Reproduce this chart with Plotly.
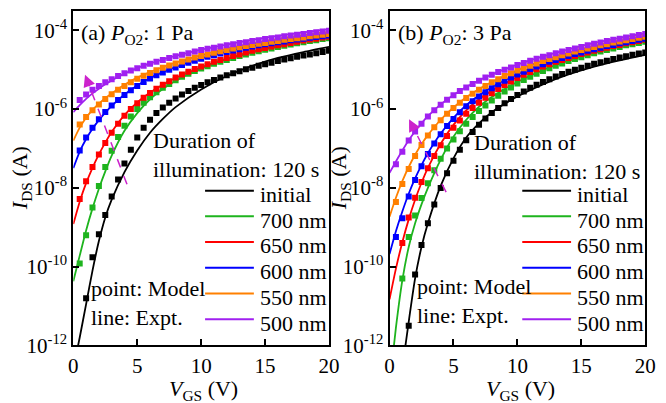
import plotly.graph_objects as go

# ---------------- data ----------------
LABELS = ["initial", "700 nm", "650 nm", "600 nm", "550 nm", "500 nm"]
COLORS = ["#000000", "#1eb41e", "#ff0000", "#0000ff", "#ff8000", "#a020f0"]

V_PTS = [0.5, 1.0, 1.5, 2.0, 2.5, 3.0, 3.5, 4.0, 4.5, 5.0, 5.5, 6.0, 6.5, 7.0, 7.5, 8.0,
         8.5, 9.0, 9.5, 10.0, 10.5, 11.0, 11.5, 12.0, 12.5, 13.0, 13.5, 14.0, 14.5, 15.0,
         15.5, 16.0, 16.5, 17.0, 17.5, 18.0, 18.5, 19.0, 19.5, 20.0]
V_LINE = [0, 0.5, 1, 1.5, 2, 2.5, 3, 4, 5, 6, 7, 8, 10, 12, 14, 16, 18, 20]

# panel (a): P_O2 = 1 Pa   -- log10(I_DS / A)
A_PTS = {
    "initial": [None, -10.80, -9.76, -9.18, -8.69, -8.22, -7.79, -7.38, -7.03, -6.72, -6.47, -6.27, -6.10, -5.96, -5.84, -5.73,
                -5.63, -5.54, -5.46, -5.39, -5.32, -5.26, -5.20, -5.14, -5.09, -5.04, -4.99, -4.95, -4.90, -4.86,
                -4.82, -4.78, -4.74, -4.71, -4.67, -4.64, -4.61, -4.58, -4.55, -4.52],
    "700 nm": [-9.92, -9.20, -8.50, -7.95, -7.47, -7.06, -6.71, -6.42, -6.19, -6.00, -5.84, -5.70, -5.57, -5.46, -5.36, -5.27,
               -5.18, -5.10, -5.03, -4.97, -4.91, -4.85, -4.80, -4.75, -4.70, -4.65, -4.61, -4.57, -4.53, -4.49,
               -4.46, -4.42, -4.39, -4.36, -4.33, -4.30, -4.27, -4.25, -4.22, -4.20],
    "650 nm": [-8.28, -7.83, -7.47, -7.15, -6.86, -6.60, -6.37, -6.17, -6.00, -5.85, -5.71, -5.59, -5.48, -5.38, -5.29, -5.20,
               -5.12, -5.05, -4.98, -4.92, -4.86, -4.80, -4.75, -4.70, -4.65, -4.61, -4.56, -4.52, -4.48, -4.45,
               -4.41, -4.38, -4.35, -4.32, -4.29, -4.26, -4.23, -4.21, -4.18, -4.16],
    "600 nm": [-7.05, -6.72, -6.47, -6.26, -6.07, -5.91, -5.77, -5.64, -5.52, -5.41, -5.31, -5.22, -5.14, -5.07, -5.00, -4.94,
               -4.88, -4.82, -4.77, -4.72, -4.67, -4.63, -4.59, -4.55, -4.51, -4.48, -4.44, -4.41, -4.38, -4.35,
               -4.33, -4.30, -4.28, -4.25, -4.23, -4.21, -4.19, -4.17, -4.15, -4.13],
    "550 nm": [-6.39, -6.20, -6.03, -5.88, -5.74, -5.62, -5.51, -5.41, -5.32, -5.23, -5.15, -5.08, -5.01, -4.95, -4.89, -4.84,
               -4.79, -4.74, -4.69, -4.65, -4.61, -4.57, -4.53, -4.50, -4.46, -4.43, -4.40, -4.37, -4.34, -4.32,
               -4.29, -4.27, -4.24, -4.22, -4.20, -4.18, -4.15, -4.13, -4.11, -4.09],
    "500 nm": [-5.77, -5.63, -5.51, -5.41, -5.32, -5.24, -5.16, -5.09, -5.02, -4.96, -4.90, -4.85, -4.80, -4.75, -4.70, -4.66,
               -4.62, -4.58, -4.54, -4.50, -4.47, -4.44, -4.41, -4.38, -4.35, -4.32, -4.30, -4.27, -4.25, -4.22,
               -4.20, -4.18, -4.15, -4.13, -4.11, -4.09, -4.07, -4.05, -4.03, -4.01],
}
A_LINE = {
    "initial": [-12.6, -11.8, -10.95, -10.1, -9.35, -8.75, -8.30, -7.60, -7.05, -6.60, -6.25, -5.95, -5.50, -5.16, -4.90, -4.70, -4.55, -4.42],
    "700 nm": [-10.37, -9.72, -9.08, -8.52, -8.02, -7.58, -7.18, -6.55, -6.10, -5.75, -5.49, -5.28, -4.97, -4.74, -4.56, -4.41, -4.28, -4.17],
    "650 nm": [-8.92, -8.35, -7.88, -7.49, -7.15, -6.85, -6.58, -6.15, -5.83, -5.58, -5.38, -5.21, -4.94, -4.72, -4.54, -4.38, -4.25, -4.13],
    "600 nm": [-7.50, -7.08, -6.76, -6.50, -6.28, -6.09, -5.92, -5.63, -5.40, -5.21, -5.06, -4.93, -4.72, -4.54, -4.40, -4.28, -4.18, -4.09],
    "550 nm": [-6.80, -6.47, -6.22, -6.02, -5.86, -5.72, -5.60, -5.38, -5.20, -5.06, -4.93, -4.82, -4.63, -4.47, -4.34, -4.22, -4.12, -4.04],
    "500 nm": [-6.08, -5.90, -5.74, -5.60, -5.48, -5.37, -5.27, -5.10, -4.96, -4.84, -4.74, -4.65, -4.49, -4.36, -4.24, -4.14, -4.05, -3.97],
}

# panel (b): P_O2 = 3 Pa   -- log10(I_DS / A)
B_PTS = {
    "initial": [None, None, -11.50, -10.20, -9.45, -8.90, -8.42, -8.00, -7.63, -7.31, -7.03, -6.79, -6.58, -6.40, -6.24, -6.10,
                -5.97, -5.85, -5.74, -5.64, -5.55, -5.46, -5.38, -5.31, -5.24, -5.17, -5.11, -5.05, -5.00, -4.95,
                -4.90, -4.85, -4.81, -4.77, -4.73, -4.69, -4.66, -4.62, -4.59, -4.56],
    "700 nm": [None, -10.30, -9.25, -8.70, -8.26, -7.88, -7.55, -7.26, -7.00, -6.77, -6.56, -6.37, -6.20, -6.05, -5.91, -5.78,
               -5.66, -5.55, -5.45, -5.35, -5.26, -5.18, -5.10, -5.03, -4.96, -4.90, -4.84, -4.78, -4.73, -4.68,
               -4.63, -4.58, -4.54, -4.50, -4.46, -4.42, -4.38, -4.35, -4.32, -4.29],
    "650 nm": [None, -9.40, -8.75, -8.25, -7.85, -7.50, -7.19, -6.92, -6.68, -6.47, -6.29, -6.12, -5.97, -5.84, -5.71, -5.60,
               -5.49, -5.39, -5.30, -5.21, -5.13, -5.06, -4.99, -4.92, -4.86, -4.80, -4.75, -4.70, -4.65, -4.60,
               -4.56, -4.52, -4.48, -4.44, -4.40, -4.37, -4.33, -4.30, -4.27, -4.24],
    "600 nm": [-9.25, -8.77, -8.22, -7.80, -7.45, -7.14, -6.87, -6.64, -6.43, -6.25, -6.08, -5.93, -5.80, -5.68, -5.57, -5.47,
               -5.37, -5.28, -5.20, -5.12, -5.05, -4.98, -4.92, -4.86, -4.80, -4.75, -4.70, -4.65, -4.60, -4.56,
               -4.52, -4.48, -4.44, -4.40, -4.37, -4.33, -4.30, -4.27, -4.24, -4.21],
    "550 nm": [-8.36, -7.90, -7.52, -7.19, -6.91, -6.67, -6.46, -6.28, -6.12, -5.97, -5.84, -5.72, -5.61, -5.51, -5.41, -5.32,
               -5.24, -5.16, -5.09, -5.02, -4.96, -4.90, -4.84, -4.78, -4.73, -4.68, -4.63, -4.59, -4.54, -4.50,
               -4.46, -4.42, -4.38, -4.35, -4.31, -4.28, -4.25, -4.22, -4.19, -4.16],
    "500 nm": [-7.40, -7.08, -6.80, -6.57, -6.37, -6.19, -6.03, -5.89, -5.76, -5.65, -5.54, -5.45, -5.36, -5.28, -5.20, -5.13,
               -5.06, -5.00, -4.94, -4.88, -4.83, -4.77, -4.72, -4.67, -4.63, -4.58, -4.54, -4.50, -4.46, -4.42,
               -4.38, -4.34, -4.31, -4.27, -4.24, -4.21, -4.18, -4.15, -4.12, -4.09],
}
B_LINE = {
    "initial": [-15.0, -14.0, -12.6, -11.4, -10.3, -9.5, -8.9, -7.95, -7.25, -6.72, -6.36, -6.08, -5.68, -5.37, -5.12, -4.92, -4.76, -4.62],
    "700 nm": [-13.0, -11.55, -10.35, -9.50, -8.90, -8.42, -8.00, -7.28, -6.70, -6.27, -5.94, -5.69, -5.31, -5.01, -4.77, -4.57, -4.41, -4.28],
    "650 nm": [-10.83, -10.05, -9.38, -8.80, -8.30, -7.87, -7.49, -6.88, -6.40, -6.03, -5.75, -5.53, -5.19, -4.91, -4.69, -4.50, -4.35, -4.23],
    "600 nm": [-9.68, -9.10, -8.60, -8.15, -7.76, -7.42, -7.12, -6.62, -6.22, -5.90, -5.65, -5.44, -5.11, -4.85, -4.64, -4.46, -4.32, -4.20],
    "550 nm": [-8.73, -8.25, -7.83, -7.47, -7.16, -6.89, -6.66, -6.27, -5.96, -5.70, -5.49, -5.31, -5.01, -4.77, -4.57, -4.40, -4.26, -4.14],
    "500 nm": [-7.62, -7.33, -7.05, -6.79, -6.56, -6.36, -6.18, -5.88, -5.64, -5.44, -5.27, -5.12, -4.87, -4.66, -4.48, -4.32, -4.19, -4.08],
}

Y_TICKS = [-12, -10, -8, -6, -4]
X_TICKS = [0, 5, 10, 15, 20]

FONT = "Liberation Serif"
W, H = 666, 403


def tolin(vals):
    return [None if v is None else 10 ** v for v in vals]


fig = go.Figure()

panels = [("x", "y", A_PTS, A_LINE), ("x2", "y2", B_PTS, B_LINE)]
for xa, ya, pts, lines in panels:
    for lab, col in zip(LABELS, COLORS):
        fig.add_trace(go.Scatter(x=V_LINE, y=tolin(lines[lab]), mode="lines",
                                 line=dict(color=col, width=1.8, shape="spline", smoothing=0.6),
                                 name=lab, xaxis=xa, yaxis=ya, showlegend=False))
    for lab, col in zip(LABELS, COLORS):
        fig.add_trace(go.Scatter(x=V_PTS, y=tolin(pts[lab]), mode="markers",
                                 marker=dict(symbol="square", size=6, color=col),
                                 name=lab, xaxis=xa, yaxis=ya, showlegend=False))

ax_common = dict(showline=True, linecolor="black", linewidth=2, mirror=True,
                 ticks="inside", ticklen=6, tickwidth=1.5, tickcolor="black",
                 showgrid=False, zeroline=False,
                 tickfont=dict(family=FONT, size=21, color="black"))

xdomA = [70 / W, 332 / W]
xdomB = [394 / W, 656 / W]
ydom = [1 - 356 / H, 1 - 11 / H]

ytext = ["10<sup>%d</sup>" % t for t in Y_TICKS]
fig.update_layout(
    width=W, height=H, margin=dict(l=0, r=0, t=0, b=0),
    paper_bgcolor="white", plot_bgcolor="white",
    font=dict(family=FONT, size=22, color="black"),
    xaxis=dict(domain=xdomA, range=[0, 20], tickvals=X_TICKS, anchor="y", **ax_common),
    yaxis=dict(domain=ydom, type="log", range=[-12, -3.5], tickvals=[10 ** t for t in Y_TICKS],
               ticktext=ytext, anchor="x", **ax_common),
    xaxis2=dict(domain=xdomB, range=[0, 20], tickvals=X_TICKS, anchor="y2", **ax_common),
    yaxis2=dict(domain=ydom, type="log", range=[-12, -3.5], tickvals=[10 ** t for t in Y_TICKS],
                ticktext=ytext, anchor="x2", **ax_common),
    showlegend=False,
)


def ann(text, px, py, xanchor="left", yanchor="middle", size=22, angle=0, align="left"):
    fig.add_annotation(text=text, x=px / W, y=1 - py / H, xref="paper", yref="paper",
                       xanchor=xanchor, yanchor=yanchor, showarrow=False, textangle=angle,
                       align=align, font=dict(family=FONT, size=size, color="black"))


ann("(a) <i>P</i><sub>O2</sub>: 1 Pa", 76, 35)
ann("(b) <i>P</i><sub>O2</sub>: 3 Pa", 401, 35)
ann("Duration of<br>illumination: 120 s", 150, 160)
ann("Duration of<br>illumination: 120 s", 478, 162)
ann("point: Model<br>line: Expt.", 86, 312)
ann("point: Model<br>line: Expt.", 420, 310)
ann("<i>V</i><sub>GS</sub> (V)", 203, 418, xanchor="center", yanchor="bottom")
ann("<i>V</i><sub>GS</sub> (V)", 528, 418, xanchor="center", yanchor="bottom")
ann("<i>I</i><sub>DS</sub> (A)", 16, 184, xanchor="center", angle=-90)
ann("<i>I</i><sub>DS</sub> (A)", 343, 184, xanchor="center", angle=-90)

# legends (one per panel): colour line + label
for (lx0, lx1, tx) in [(205, 255, 259), (530, 580, 584)]:
    for i, (lab, col) in enumerate(zip(LABELS, COLORS)):
        yc = 196.5 + 26.5 * i
        fig.add_shape(type="line", xref="paper", yref="paper",
                      x0=lx0 / W, x1=lx1 / W, y0=1 - yc / H, y1=1 - yc / H,
                      line=dict(color=col, width=2))
        ann(lab, tx, yc + 4, size=22)

# dashed arrows (illumination wavelength decreasing)
ARROW_COL = "#cc22cc"
for (tx, ty), (hx, hy) in [((125, 190), (82, 77)), ((452, 198), (414, 123))]:
    dx, dy = tx - hx, ty - hy
    L = (dx ** 2 + dy ** 2) ** 0.5
    ux, uy = dx / L, dy / L
    fig.add_shape(type="line", xref="paper", yref="paper",
                  x0=tx / W, y0=1 - ty / H, x1=(hx + ux * 12) / W, y1=1 - (hy + uy * 12) / H,
                  line=dict(color=ARROW_COL, width=1.5, dash="dash"))
    fig.add_annotation(x=hx / W, y=1 - hy / H, xref="paper", yref="paper",
                       ax=ux * 14, ay=uy * 14, axref="pixel", ayref="pixel",
                       showarrow=True, arrowhead=2, arrowsize=1.6, arrowwidth=1.5,
                       arrowcolor=ARROW_COL, text="")

fig.write_html("out.html")
